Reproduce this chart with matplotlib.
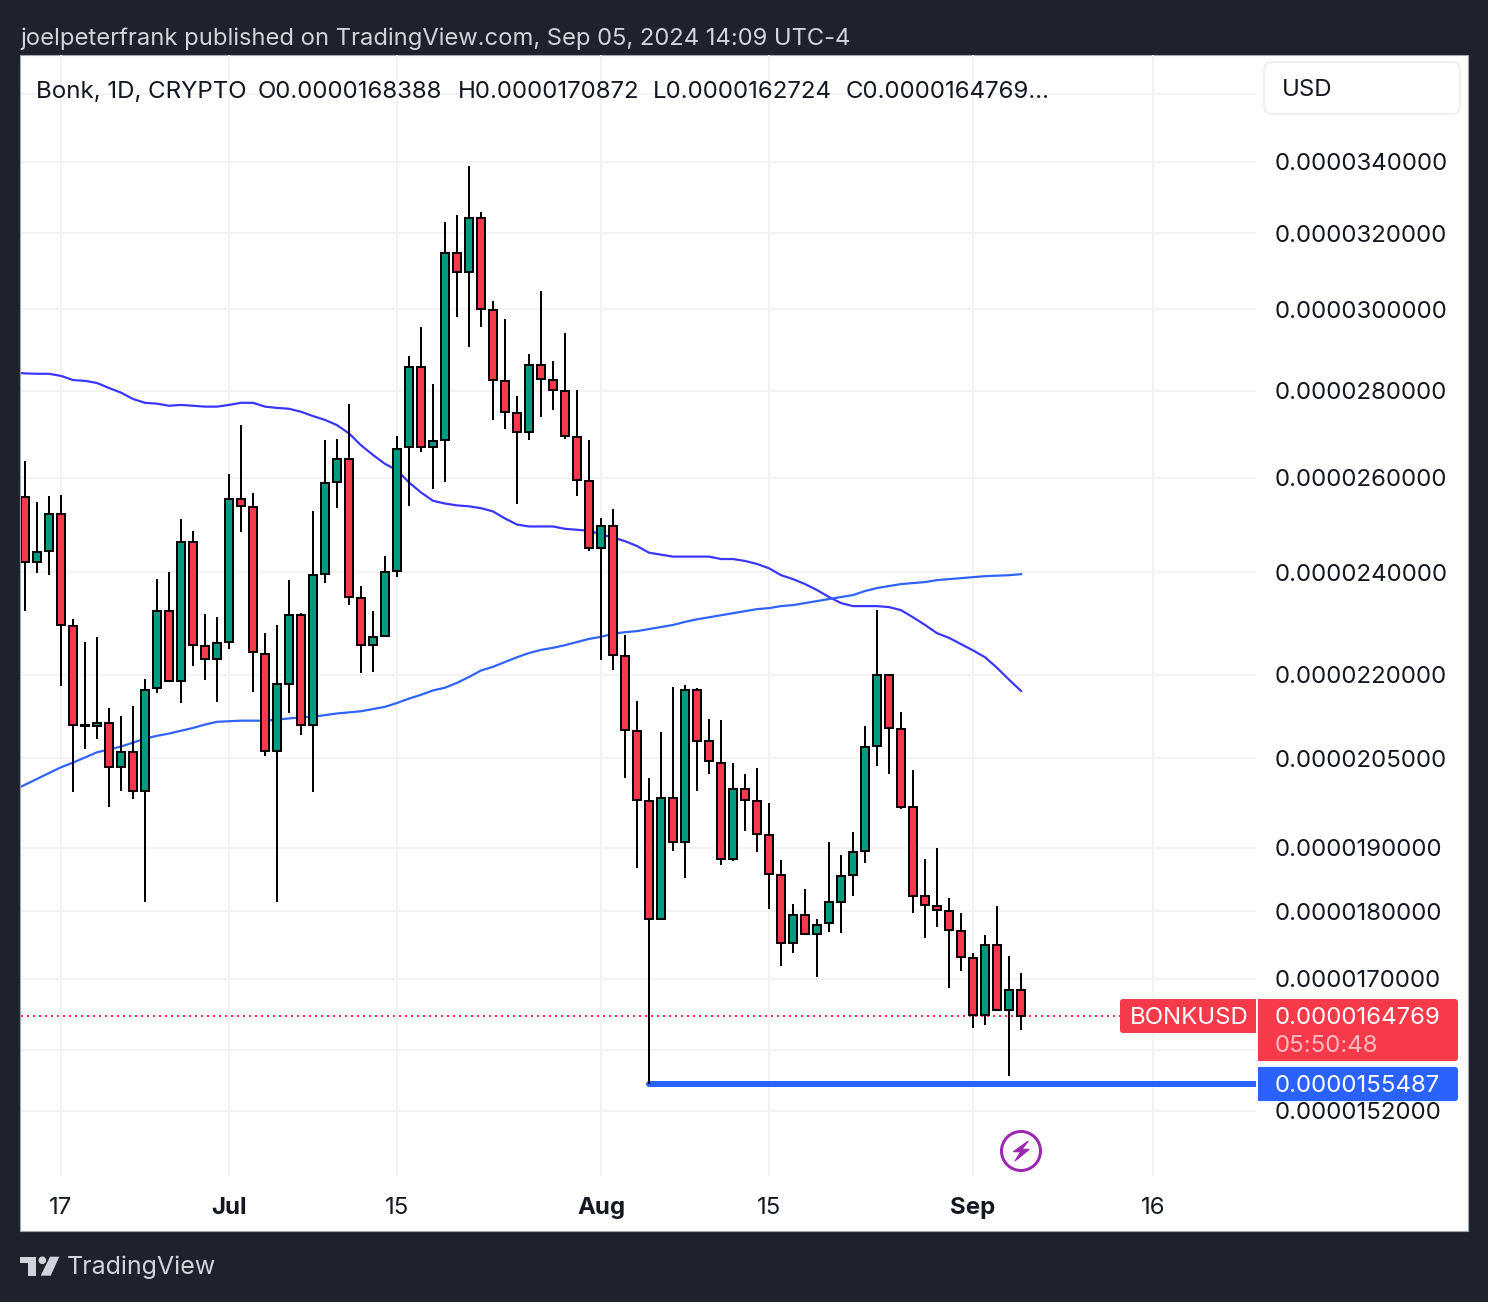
import numpy as np
import matplotlib
matplotlib.use("Agg")
import matplotlib.pyplot as plt
from matplotlib.patches import Circle, FancyBboxPatch, Polygon, Rectangle

plt.rcParams['font.family'] = ['Inter', 'DejaVu Sans']

# ---------------------------------------------------------
# DATA (prices in millionths of a USD)
# ---------------------------------------------------------
opens = [25.58, 24.21, 24.43, 25.21, 22.93, 21.09, 21.06, 21.12, 20.34, 20.61, 19.94, 21.76,
         23.22, 21.89, 24.62, 22.54, 22.30, 22.62, 25.54, 25.36, 22.40, 20.63, 21.83, 23.14,
         21.08, 23.96, 25.90, 26.41, 23.48, 22.56, 22.74, 24.02, 26.69, 28.57, 26.69, 26.85,
         31.46, 30.96, 32.42, 29.97, 28.22, 27.48, 27.03, 28.62, 28.25, 27.99, 26.91, 25.93,
         24.50, 24.96, 22.35, 20.98, 19.76, 17.88, 19.81, 19.09, 21.72, 20.79, 20.42, 18.81,
         19.97, 19.76, 19.20, 18.56, 17.53, 17.95, 17.65, 17.82, 18.15, 18.56, 18.95, 20.71,
         22.00, 21.01, 19.66, 18.23, 18.08, 18.00, 17.70, 17.30, 16.48, 17.49, 16.55, 16.8388]
highs = [26.37, 25.47, 25.60, 25.62, 23.06, 22.62, 22.72, 21.39, 21.25, 21.43, 21.93, 23.86,
         24.00, 25.11, 24.85, 23.16, 23.10, 26.08, 27.19, 25.67, 22.80, 22.95, 23.84, 23.18,
         25.29, 26.86, 26.88, 27.69, 23.73, 23.22, 24.33, 26.95, 28.83, 29.54, 28.16, 32.30,
         32.49, 33.88, 32.57, 30.22, 29.74, 27.87, 28.88, 30.46, 28.71, 29.39, 28.02, 26.86,
         25.12, 25.33, 22.75, 21.52, 20.16, 20.95, 21.78, 21.81, 21.76, 21.19, 21.17, 20.42,
         20.22, 20.32, 19.73, 18.80, 18.11, 18.34, 17.88, 19.09, 18.88, 19.25, 21.06, 23.24,
         22.00, 21.31, 20.29, 18.82, 18.99, 18.20, 17.97, 17.37, 17.64, 18.08, 17.33, 17.0872]
lows = [23.22, 23.98, 23.94, 21.80, 19.91, 20.65, 20.83, 19.66, 19.93, 19.80, 18.14, 21.66,
        21.89, 21.48, 22.17, 21.91, 21.50, 22.49, 24.83, 21.68, 20.53, 18.15, 21.30, 20.90,
        19.91, 23.78, 25.34, 23.34, 22.04, 22.06, 22.74, 23.90, 25.38, 26.57, 25.75, 25.90,
        29.79, 29.05, 29.54, 27.31, 27.09, 25.43, 26.86, 27.38, 27.54, 26.88, 25.60, 24.43,
        22.28, 22.09, 20.16, 18.68, 15.55, 17.88, 18.95, 18.52, 19.94, 20.23, 18.72, 18.78,
        19.27, 18.93, 18.03, 17.18, 17.37, 17.65, 17.02, 17.68, 17.67, 18.23, 18.75, 20.37,
        20.22, 19.64, 17.97, 17.60, 17.76, 16.87, 17.11, 16.31, 16.34, 16.55, 15.65, 16.2724]
closes = [24.21, 24.41, 25.21, 22.95, 21.08, 21.07, 21.12, 20.34, 20.61, 19.94, 21.72, 23.22,
          21.89, 24.62, 22.56, 22.30, 22.60, 25.54, 25.39, 22.42, 20.63, 21.83, 23.14, 21.08,
          23.94, 25.88, 26.41, 23.50, 22.56, 22.72, 24.00, 26.65, 28.57, 26.69, 26.83, 31.46,
          30.96, 32.42, 30.00, 28.25, 27.50, 27.03, 28.62, 28.28, 28.02, 26.93, 25.95, 24.50,
          24.96, 22.37, 21.00, 19.78, 17.88, 19.81, 19.09, 21.72, 20.79, 20.44, 18.81, 19.97,
          19.78, 19.22, 18.58, 17.53, 17.95, 17.65, 17.80, 18.14, 18.55, 18.93, 20.70, 22.00,
          21.03, 19.67, 18.24, 18.09, 18.02, 17.71, 17.31, 16.48, 17.49, 16.55, 16.84, 16.4769]

# moving averages, first value sits one day before the first candle
ma_fast = [28.43, 28.41, 28.40, 28.40, 28.35, 28.25, 28.23, 28.18, 28.06, 27.95, 27.80, 27.71,
           27.69, 27.64, 27.66, 27.64, 27.62, 27.62, 27.66, 27.71, 27.71, 27.62, 27.59, 27.57,
           27.50, 27.40, 27.31, 27.19, 27.00, 26.73, 26.51, 26.31, 26.17, 25.90, 25.68, 25.50,
           25.44, 25.40, 25.38, 25.34, 25.27, 25.12, 24.99, 24.95, 24.95, 24.95, 24.90, 24.88,
           24.86, 24.78, 24.72, 24.64, 24.54, 24.40, 24.36, 24.32, 24.32, 24.32, 24.32, 24.27,
           24.27, 24.23, 24.17, 24.08, 23.94, 23.86, 23.76, 23.64, 23.50, 23.38, 23.32, 23.32,
           23.32, 23.30, 23.24, 23.10, 22.95, 22.79, 22.70, 22.58, 22.46, 22.33, 22.13, 21.91,
           21.70]
ma_slow = [19.94, 20.04, 20.14, 20.24, 20.34, 20.42, 20.51, 20.60, 20.65, 20.70, 20.77, 20.84,
           20.89, 20.93, 20.98, 21.03, 21.09, 21.14, 21.15, 21.16, 21.16, 21.16, 21.18, 21.20,
           21.22, 21.23, 21.26, 21.29, 21.31, 21.33, 21.37, 21.41, 21.48, 21.56, 21.63, 21.71,
           21.76, 21.85, 21.96, 22.08, 22.15, 22.24, 22.33, 22.41, 22.47, 22.51, 22.56, 22.62,
           22.68, 22.72, 22.78, 22.81, 22.83, 22.87, 22.91, 22.95, 23.01, 23.06, 23.10, 23.14,
           23.18, 23.22, 23.26, 23.28, 23.32, 23.34, 23.38, 23.42, 23.46, 23.50, 23.54, 23.62,
           23.68, 23.72, 23.76, 23.78, 23.80, 23.84, 23.86, 23.88, 23.90, 23.92, 23.93, 23.94,
           23.96]

price_ticks = [36, 34, 32, 30, 28, 26, 24, 22, 20.5, 19, 18, 17, 16, 15.2]
hidden_ticks = [36, 16]
date_ticks = [3, 17, 31, 48, 62, 79, 94]
date_labels = ["17", "Jul", "15", "Aug", "15", "Sep", "16"]
month_labels = ["Jul", "Aug", "Sep"]

last_price = 16.4769
low_line_price = 15.5487
low_line_day = 52

days = np.arange(len(opens))
ma_days = np.arange(len(ma_fast)) - 1

# ---------------------------------------------------------
# COLOURS AND PAGE
# ---------------------------------------------------------
DARK = '#1e222d'
RED = '#f73a4a'
GREEN = '#089981'
BLUE = '#2962ff'
INK = '#131722'
GRID = '#f2f3f5'
PX = 0.72  # one pixel in points at dpi 100
FS = 17.3
VA = 'center_baseline'

fig = plt.figure(figsize=(14.88, 13.02), dpi=100, facecolor=DARK)

back = fig.add_axes([0, 0, 1, 1], zorder=0)
back.set_xlim(0, 1488)
back.set_ylim(1302, 0)
back.axis('off')
back.add_patch(Rectangle((20, 54.5), 1448, 1176.5, facecolor='white', edgecolor='#a3a6af', linewidth=0.8))

# ---------------------------------------------------------
# MAIN CHART
# ---------------------------------------------------------
ax = fig.add_axes([21 / 1488, 1 - 1176 / 1302, 1235 / 1488, 1121 / 1302], zorder=1)
ax.patch.set_alpha(0)
ax.set_yscale('log')
ax.set_xlim(-0.333, 102.58)
ax.set_ylim(14.38, 37.22)

for spine in ax.spines.values():
    spine.set_visible(False)

ax.grid(True, color=GRID, linewidth=2 * PX)
ax.set_axisbelow(True)

ax.plot([-0.333, 91.25], [last_price, last_price], color=RED, linewidth=2 * PX,
        linestyle=(0, (1, 2)), dash_capstyle='butt', zorder=1.5)

ax.plot(ma_days, ma_fast, color='#3a35ff', linewidth=2.2 * PX, zorder=2)
ax.plot(ma_days, ma_slow, color='#2f62ff', linewidth=2.2 * PX, zorder=2)

ax.plot([low_line_day, 102.58], [low_line_price, low_line_price], color=BLUE, linewidth=6 * PX,
        solid_capstyle='round', zorder=2.5)

ax.vlines(days, lows, highs, color='black', linewidth=2 * PX, zorder=3)
colors = [GREEN if c >= o else RED for o, c in zip(opens, closes)]
bottoms = np.minimum(opens, closes)
heights = np.abs(np.array(closes) - np.array(opens))
ax.bar(days, heights, bottom=bottoms, width=8 / 12, color=colors, edgecolor='black',
       linewidth=2 * PX, zorder=4)

# ---------------------------------------------------------
# AXES
# ---------------------------------------------------------
ax.yaxis.tick_right()
tick_text = ["" if t in hidden_ticks else f"{t * 1e-6:.10f}" for t in price_ticks]
ax.set_yticks(price_ticks, labels=tick_text)
ax.minorticks_off()
ax.tick_params(axis='y', length=0, pad=19 * PX, labelsize=FS, labelcolor=INK)

ax.set_xticks(date_ticks, labels=date_labels)
ax.tick_params(axis='x', length=0, pad=21 * PX, labelsize=FS, labelcolor=INK)
for label in ax.get_xticklabels():
    if label.get_text() in month_labels:
        label.set_fontweight('bold')

# ---------------------------------------------------------
# TEXT, FLAGS AND LOGO ON TOP
# ---------------------------------------------------------
top = fig.add_axes([0, 0, 1, 1], zorder=2)
top.set_xlim(0, 1488)
top.set_ylim(1302, 0)
top.axis('off')

top.text(20, 36, "joelpeterfrank published on TradingView.com, Sep 05, 2024 14:09 UTC-4",
         color='#d1d4dc', fontsize=17.1, va=VA)

header = ["Bonk, 1D, CRYPTO", "O0.0000168388", "H0.0000170872", "L0.0000162724", "C0.0000164769..."]
header_x = [36, 258, 458, 653, 846]
for txt, hx in zip(header, header_x):
    top.text(hx, 90, txt, color=INK, fontsize=FS, va=VA)

top.add_patch(FancyBboxPatch((1272, 70), 180, 36, boxstyle="round,pad=8,rounding_size=8",
                             facecolor='white', edgecolor='#e9ebef', linewidth=1))
top.text(1282, 88, "USD", color=INK, fontsize=FS, va=VA)

top.add_patch(FancyBboxPatch((1123, 1002), 130, 28, boxstyle="round,pad=3,rounding_size=3",
                             facecolor=RED, edgecolor='none'))
top.add_patch(Rectangle((1240, 999), 16, 34, facecolor=RED, edgecolor='none'))
top.text(1130, 1016, "BONKUSD", color='white', fontsize=FS, va=VA)

top.add_patch(FancyBboxPatch((1261, 1002), 194, 56, boxstyle="round,pad=3,rounding_size=3",
                             facecolor=RED, edgecolor='none'))
top.add_patch(Rectangle((1258, 999), 10, 62, facecolor=RED, edgecolor='none'))
top.text(1275, 1016, "0.0000164769", color='white', fontsize=FS, va=VA)
top.text(1275, 1044, "05:50:48", color='#fbb9c1', fontsize=FS, va=VA)

top.add_patch(FancyBboxPatch((1261, 1070), 194, 28, boxstyle="round,pad=3,rounding_size=3",
                             facecolor=BLUE, edgecolor='none'))
top.add_patch(Rectangle((1258, 1067), 10, 34, facecolor=BLUE, edgecolor='none'))
top.text(1275, 1084, "0.0000155487", color='white', fontsize=FS, va=VA)

# lightning badge
top.add_patch(Circle((1021, 1151), 19.5, facecolor='white', edgecolor='#9c27b0', linewidth=3 * PX))
top.add_patch(Polygon([(1028.3, 1141), (1013.3, 1151.7), (1020.7, 1151.7), (1015, 1161),
                       (1029.3, 1149.3), (1022, 1149.3)], closed=True, facecolor='#9c27b0',
                      edgecolor='#9c27b0', linewidth=0.8))

# TradingView logo
LOGO = '#d1d4dc'
top.add_patch(Polygon([(20, 1256.7), (35.7, 1256.7), (35.7, 1275.7), (27.7, 1275.7), (27.7, 1263.3), (20, 1263.3)],
                      closed=True, facecolor=LOGO, edgecolor='none'))
top.add_patch(Circle((42.3, 1260.3), 3.8, facecolor=LOGO, edgecolor='none'))
top.add_patch(Polygon([(50, 1256.7), (59.3, 1256.7), (50.7, 1275.7), (40.7, 1275.7)],
                      closed=True, facecolor=LOGO, edgecolor='none'))
top.text(67, 1265, "TradingView", color=LOGO, fontsize=18, va=VA)

fig.savefig("out.png", dpi=100, facecolor=DARK)
